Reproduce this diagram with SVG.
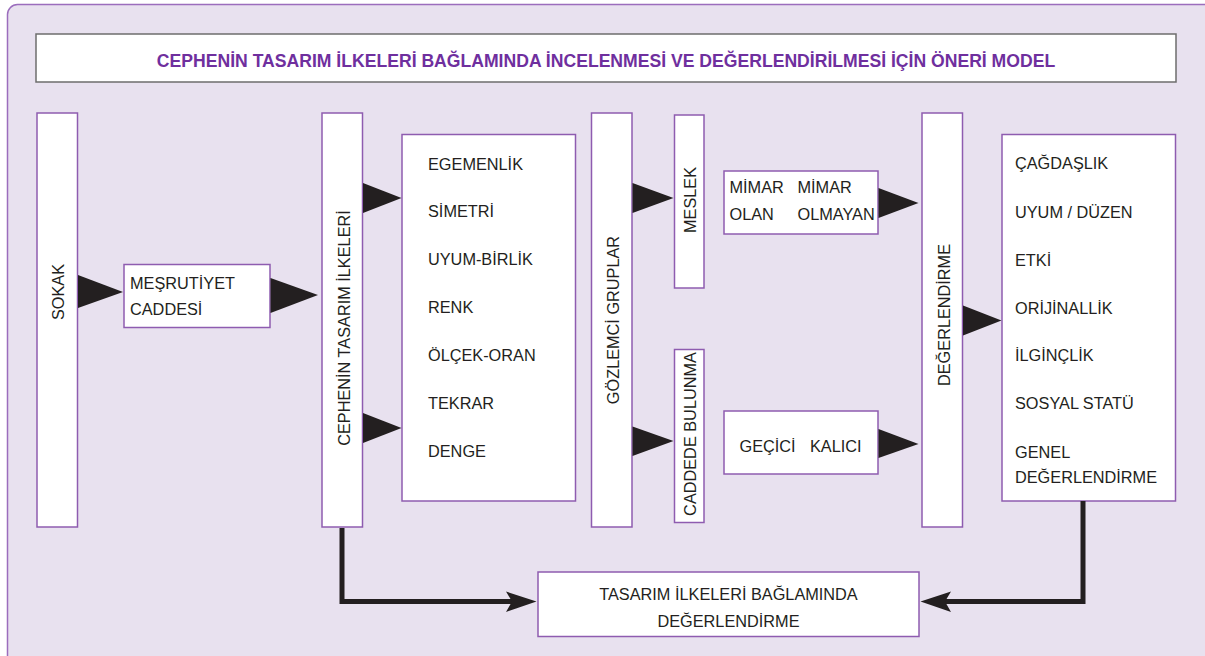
<svg xmlns="http://www.w3.org/2000/svg" width="1205" height="656" viewBox="0 0 1205 656">
<defs>
<style>
.box{fill:#fff;stroke:#8e5cb0;stroke-width:1.5}
.t{font-family:"Liberation Sans",Arial,sans-serif;font-size:16.3px;fill:#231f20}
.conn{fill:none;stroke:#231f20;stroke-width:5}
.tri{fill:#231f20}
</style>
</defs>
<rect x="0" y="0" width="1205" height="656" fill="#fff"/>
<rect x="7.5" y="4.5" width="1210" height="670" rx="10" fill="#e8e1ef" stroke="#9b6dbd" stroke-width="1.5"/>

<g id="title">
<rect x="36" y="34" width="1140" height="48" fill="#fff" stroke="#6d6d6d" stroke-width="1.5"/>
<text x="606" y="66.5" text-anchor="middle" font-family="'Liberation Sans',Arial,sans-serif" font-weight="bold" font-size="17.6" fill="#6f2f9e">CEPHENİN TASARIM İLKELERİ BAĞLAMINDA İNCELENMESİ VE DEĞERLENDİRİLMESİ İÇİN ÖNERİ MODEL</text>
</g>

<g id="sokak">
<rect class="box" x="37" y="113" width="40.5" height="414"/>
<text class="t" transform="translate(63.5,292) rotate(-90)" text-anchor="middle">SOKAK</text>
</g>

<g id="mesrutiyet">
<rect class="box" x="124" y="264.5" width="146" height="63"/>
<text class="t" x="130" y="288.5">MEŞRUTİYET</text>
<text class="t" x="130" y="315">CADDESİ</text>
</g>

<g id="cephenin">
<rect class="box" x="322" y="113" width="40.5" height="414"/>
<text class="t" transform="translate(349.5,328) rotate(-90)" text-anchor="middle">CEPHENİN TASARIM İLKELERİ</text>
</g>

<g id="ilkeler">
<rect class="box" x="402" y="134.5" width="173.5" height="366.5"/>
<text class="t" x="428" y="170">EGEMENLİK</text>
<text class="t" x="428" y="217">SİMETRİ</text>
<text class="t" x="428" y="265">UYUM-BİRLİK</text>
<text class="t" x="428" y="313">RENK</text>
<text class="t" x="428" y="361">ÖLÇEK-ORAN</text>
<text class="t" x="428" y="408.5">TEKRAR</text>
<text class="t" x="428" y="457">DENGE</text>
</g>

<g id="gozlemci">
<rect class="box" x="591.5" y="113" width="40.5" height="414"/>
<text class="t" transform="translate(619,320) rotate(-90)" text-anchor="middle">GÖZLEMCİ GRUPLAR</text>
</g>

<g id="meslek">
<rect class="box" x="674.5" y="115" width="29.5" height="173"/>
<text class="t" transform="translate(696,200) rotate(-90)" text-anchor="middle">MESLEK</text>
</g>

<g id="caddede">
<rect class="box" x="674.5" y="349.5" width="29.5" height="173"/>
<text class="t" transform="translate(696,434) rotate(-90)" text-anchor="middle" font-size="15.5">CADDEDE BULUNMA</text>
</g>

<g id="mimar">
<rect class="box" x="724" y="171" width="154" height="63"/>
<text class="t" x="729.5" y="193">MİMAR</text>
<text class="t" x="797.5" y="193">MİMAR</text>
<text class="t" x="729.5" y="219.5">OLAN</text>
<text class="t" x="797.5" y="219.5">OLMAYAN</text>
</g>

<g id="gecici">
<rect class="box" x="724" y="411" width="154" height="63"/>
<text class="t" x="739.5" y="452">GEÇİCİ</text>
<text class="t" x="810" y="452">KALICI</text>
</g>

<g id="degerlendirme">
<rect class="box" x="922" y="113" width="40.5" height="414"/>
<text class="t" transform="translate(949.5,315) rotate(-90)" text-anchor="middle">DEĞERLENDİRME</text>
</g>

<g id="kriterler">
<rect class="box" x="1002" y="134.5" width="173.5" height="366.5"/>
<text class="t" x="1015" y="169">ÇAĞDAŞLIK</text>
<text class="t" x="1015" y="217.5">UYUM / DÜZEN</text>
<text class="t" x="1015" y="265.5">ETKİ</text>
<text class="t" x="1015" y="313.5">ORİJİNALLİK</text>
<text class="t" x="1015" y="361">İLGİNÇLİK</text>
<text class="t" x="1015" y="409">SOSYAL STATÜ</text>
<text class="t" x="1015" y="457.5">GENEL</text>
<text class="t" x="1015" y="482.5">DEĞERLENDİRME</text>
</g>

<g id="sonuc">
<rect class="box" x="538" y="572" width="381" height="64.5"/>
<text class="t" x="728.5" y="600" text-anchor="middle">TASARIM İLKELERİ BAĞLAMINDA</text>
<text class="t" x="728.5" y="626.5" text-anchor="middle">DEĞERLENDİRME</text>
</g>

<g id="connectors">
<polygon class="tri" points="78,275 123,292 78,308"/>
<polygon class="tri" points="270.5,278 318,295 270.5,313"/>
<polygon class="tri" points="363,183 401.5,198 363,213"/>
<polygon class="tri" points="363,413 401.5,428 363,443"/>
<polygon class="tri" points="632.5,183 673.5,198 632.5,213"/>
<polygon class="tri" points="632.5,426.5 673.5,441 632.5,456"/>
<polygon class="tri" points="878.5,188 918.5,203 878.5,218"/>
<polygon class="tri" points="878.5,429 918.5,444 878.5,458"/>
<polygon class="tri" points="963,305.5 1001.5,320.5 963,335.5"/>
<path class="conn" d="M342,528 V601.5 H512"/>
<path d="M536.5,601.5 L506,591.5 L512,601.5 L506,612 Z" fill="#231f20"/>
<path class="conn" d="M1083,501 V601.5 H945"/>
<path d="M920.5,601.5 L951,591.5 L945,601.5 L951,612 Z" fill="#231f20"/>
</g>
</svg>
